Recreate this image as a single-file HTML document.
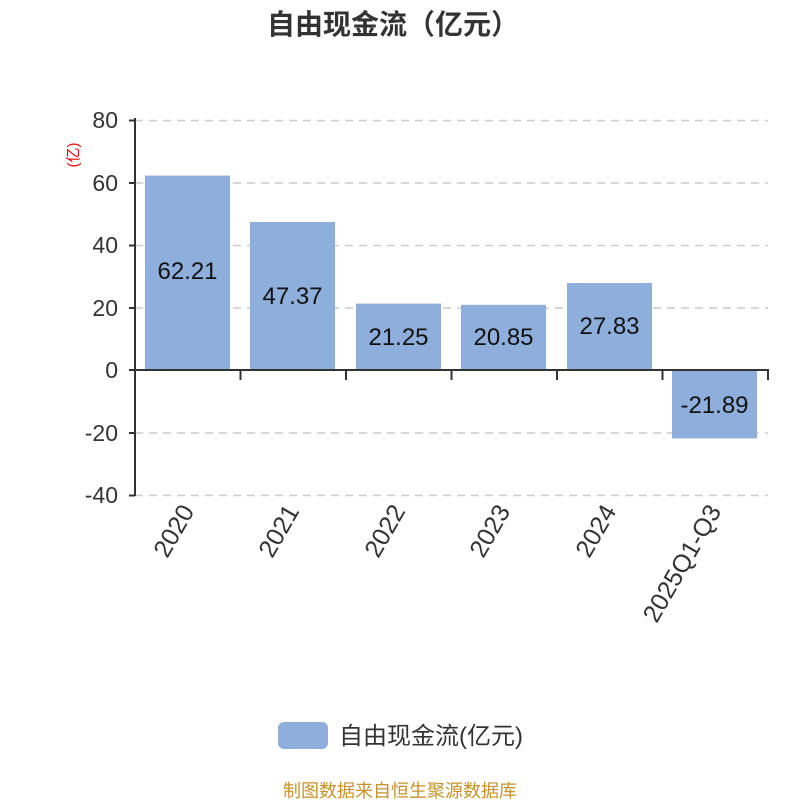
<!DOCTYPE html>
<html><head><meta charset="utf-8"><style>
html,body{margin:0;padding:0;background:#fff;}
svg{display:block;font-family:"Liberation Sans","Noto Sans CJK SC",sans-serif;}
</style></head><body>
<svg width="800" height="800" viewBox="0 0 800 800">
<text x="393" y="34" text-anchor="middle" font-size="28" font-weight="bold" fill="#333">自由现金流（亿元）</text>
<g stroke="#ccc" stroke-width="1.5" stroke-dasharray="8,6">
<line x1="135" y1="120.5" x2="768" y2="120.5"/>
<line x1="135" y1="183" x2="768" y2="183"/>
<line x1="135" y1="245.5" x2="768" y2="245.5"/>
<line x1="135" y1="308" x2="768" y2="308"/>
<line x1="135" y1="433" x2="768" y2="433"/>
<line x1="135" y1="495.5" x2="768" y2="495.5"/>
</g>
<g fill="#8eaedb">
<rect x="145" y="175.6" width="85" height="194.4"/>
<rect x="250" y="222" width="85" height="148"/>
<rect x="356" y="303.6" width="85" height="66.4"/>
<rect x="461" y="304.8" width="85" height="65.2"/>
<rect x="567" y="283" width="85" height="87"/>
<rect x="672" y="370" width="85" height="68.4"/>
</g>
<g stroke="#333" stroke-width="2">
<line x1="135" y1="118" x2="135" y2="496"/>
<line x1="135" y1="370" x2="769" y2="370"/>
<line x1="129" y1="120.5" x2="135" y2="120.5"/>
<line x1="129" y1="183" x2="135" y2="183"/>
<line x1="129" y1="245.5" x2="135" y2="245.5"/>
<line x1="129" y1="308" x2="135" y2="308"/>
<line x1="129" y1="370" x2="135" y2="370"/>
<line x1="129" y1="433" x2="135" y2="433"/>
<line x1="129" y1="495.5" x2="135" y2="495.5"/>
<line x1="240.5" y1="370" x2="240.5" y2="380"/>
<line x1="346" y1="370" x2="346" y2="380"/>
<line x1="451.5" y1="370" x2="451.5" y2="380"/>
<line x1="557" y1="370" x2="557" y2="380"/>
<line x1="662.5" y1="370" x2="662.5" y2="380"/>
<line x1="768" y1="370" x2="768" y2="380"/>
</g>
<g font-size="23" fill="#333" text-anchor="end">
<text x="118" y="128">80</text>
<text x="118" y="191">60</text>
<text x="118" y="253">40</text>
<text x="118" y="316">20</text>
<text x="118" y="378">0</text>
<text x="118" y="441">-20</text>
<text x="118" y="503">-40</text>
</g>
<text transform="translate(78,155) rotate(-90)" text-anchor="middle" font-size="15" fill="#e00">(亿)</text>
<g font-size="24" fill="#111" text-anchor="middle">
<text x="187.5" y="279">62.21</text>
<text x="292.5" y="304">47.37</text>
<text x="398.5" y="345">21.25</text>
<text x="503.5" y="345">20.85</text>
<text x="609.5" y="334">27.83</text>
<text x="714.5" y="413">-21.89</text>
</g>
<g font-size="25" fill="#333" text-anchor="end">
<text transform="translate(195,511) rotate(-60)">2020</text>
<text transform="translate(300,511) rotate(-60)">2021</text>
<text transform="translate(406,511) rotate(-60)">2022</text>
<text transform="translate(511,511) rotate(-60)">2023</text>
<text transform="translate(617,511) rotate(-60)">2024</text>
<text transform="translate(722,511) rotate(-60)">2025Q1-Q3</text>
</g>
<rect x="278" y="722" width="50" height="27" rx="6" fill="#8eaedb"/>
<text x="339" y="744" font-size="24" fill="#333">自由现金流(亿元)</text>
<text x="400" y="797" text-anchor="middle" font-size="18" fill="#c8922a">制图数据来自恒生聚源数据库</text>
</svg>
</body></html>
